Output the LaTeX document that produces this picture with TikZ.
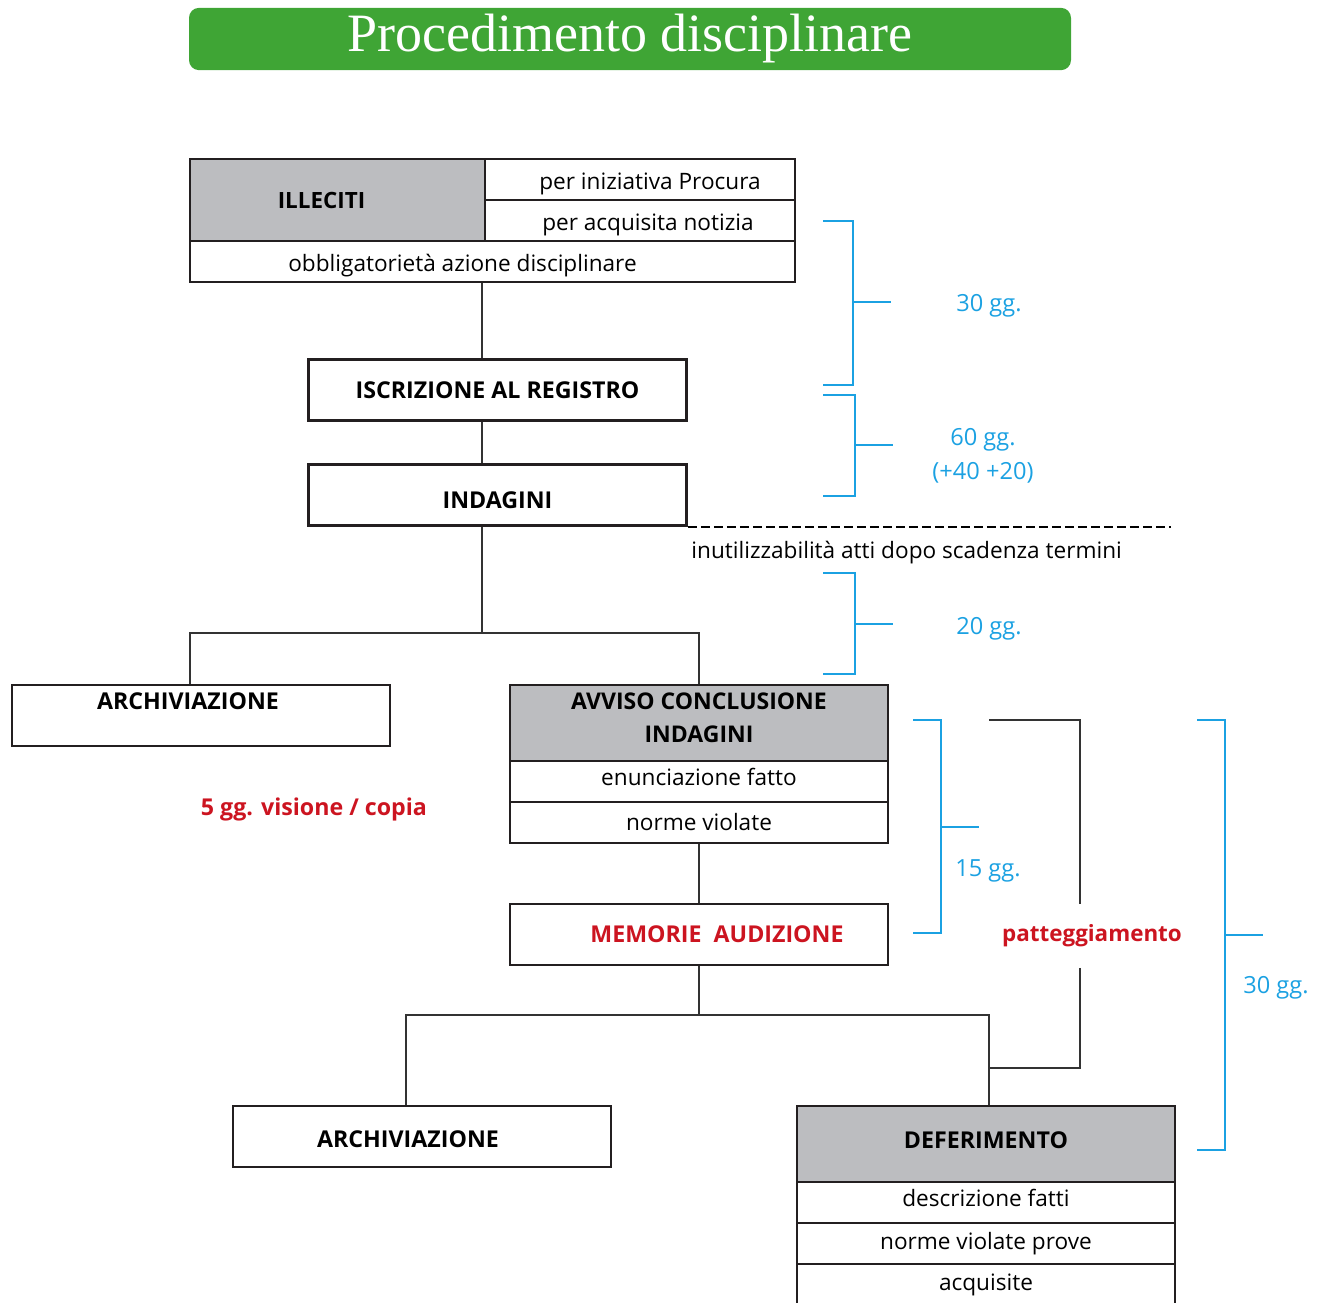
\documentclass[tikz,border=0pt]{standalone}
\usepackage{fontspec}
\setmainfont{Open Sans}
\newfontfamily\titlefont{Liberation Serif}
\usetikzlibrary{positioning}

\definecolor{titlegreen}{RGB}{63,165,53}
\definecolor{cellgray}{RGB}{188,189,192}
\definecolor{lineblack}{RGB}{35,31,32}
\definecolor{termblue}{RGB}{27,161,226}
\definecolor{notered}{RGB}{204,20,32}

\tikzset{
  cell/.style={draw=lineblack,line width=1.35pt,inner sep=0pt,minimum width=189pt},
  bigbold/.style={font=\bfseries\fontsize{11.6}{14}\selectfont},
  headcell/.style={cell,fill=cellgray,bigbold},
  rowcell/.style={cell,minimum height=20.5pt},
  lowtext/.style={text height=9.8pt,text depth=0pt},
  stepbox/.style={cell,minimum height=30.5pt,bigbold},
  conn/.style={draw=black!80,line width=0.6pt},
  brk/.style={draw=termblue,line width=1.2pt},
  term/.style={text=termblue,align=center,font=\fontsize{11.8}{17}\selectfont},
  redtext/.style={text=notered,bigbold}
}

\begin{document}
\begin{tikzpicture}[x=0.5pt,y=-0.5pt,font=\fontsize{11.3}{13.5}\selectfont]
\useasboundingbox (0,0) rectangle (1323,1302);

% title
\node[fill=titlegreen,rounded corners=5pt,minimum width=441pt,minimum height=30pt,
  text=white,font=\titlefont\fontsize{27}{30}\selectfont] (title) at (630,39) {Procedimento disciplinare};

% illeciti block
\node[headcell,minimum width=147.5pt,minimum height=41pt,font=\bfseries\fontsize{11.2}{14}\selectfont] (illeciti) at (337.5,200) {\hspace*{-16pt}ILLECITI};
\node[rowcell,lowtext,minimum width=155pt] (procura) at (640,179.5) {\hspace*{10pt}per iniziativa Procura};
\node[rowcell,lowtext,minimum width=155pt] (notizia) at (640,220.5) {\hspace*{8pt}per acquisita notizia};
\node[rowcell,lowtext,minimum width=302.5pt] (obblig) at (492.5,261.5) {\hspace*{-30pt}obbligatoriet\`a azione disciplinare};

\node[stepbox] (iscrizione) at (497.5,390) {ISCRIZIONE AL REGISTRO};
\node[stepbox,text height=13.5pt,text depth=0pt] (indagini) at (497.5,495) {INDAGINI};

\draw[line width=1pt,dash pattern=on 4.5pt off 2pt] (indagini.south east) -- ++(483,0);
\node[anchor=west,inner sep=0pt] (inutil) at (691,553) {inutilizzabilit\`a atti dopo scadenza termini};

% first fork
\node[stepbox,text height=12pt,text depth=18.5pt] (archA) at (201,715.5) {\hspace*{-13pt}ARCHIVIAZIONE};
\node[headcell,minimum height=38pt] (avviso) at (699,723) {};
\node[align=center,font=\bfseries\fontsize{11.5}{16.5}\selectfont] (avvisolbl) at ([yshift=2.75pt]avviso.center) {AVVISO CONCLUSIONE\\INDAGINI};
\node[rowcell,text height=8.5pt,text depth=5pt] (enunc) at (699,781.5) {enunciazione fatto};
\node[rowcell] (norme) at (699,822.5) {norme violate};

\node[redtext] (visione) at (314,809) {5 gg. visione / copia};

\node[stepbox,text=notered] (memorie) at (699,934.5) {\hspace*{18pt}MEMORIE\ \ AUDIZIONE};

% second fork
\node[stepbox,text height=10.5pt,text depth=0pt] (archB) at (422,1136.5) {\hspace*{-14pt}ARCHIVIAZIONE};
\node[headcell,minimum height=38pt,text height=9.3pt,text depth=5pt] (defer) at (986,1144) {DEFERIMENTO};
\node[rowcell,text height=8.3pt,text depth=4pt] (descr) at (986,1202.5) {descrizione fatti};
\node[rowcell] (prove) at (986,1243.5) {norme violate prove};
\node[rowcell] (acquis) at (986,1284.5) {acquisite};

\node[text=notered,font=\bfseries\fontsize{11.2}{14}\selectfont,minimum height=31.5pt,inner sep=0pt] (patt) at (1092,936) {patteggiamento};

% connectors
\coordinate (spine) at (482,0);
\coordinate (fork1) at (482,633);
\coordinate (fork2) at (699,1015);
\coordinate (pt) at (989,720);
\coordinate (pb) at (989,1068);
\coordinate (pv) at (1080,0);

\draw[conn] (obblig.south -| spine) -- (iscrizione.north -| spine);
\draw[conn] (iscrizione.south -| spine) -- (indagini.north -| spine);
\draw[conn] (indagini.south -| spine) -- (fork1);
\draw[conn] ([xshift=-5.5pt]archA.north) |- (fork1) -| (avviso.north);
\draw[conn] (norme.south) -- (memorie.north);
\draw[conn] (memorie.south) -- (fork2);
\draw[conn] ([xshift=-8pt]archB.north) |- (fork2) -| ([xshift=1.5pt]defer.north);
\draw[conn] (pt) -| (patt.north -| pv);
\draw[conn] (patt.south -| pv) |- (pb);

% terms
\foreach \xa/\xb/\ya/\yb/\ym in {823/853/221/385/302, 823/855/395/496/445, 823/855/573/674/624,
    913/941/720/933/827, 1197/1225/720/1150/935}
  \draw[brk] (\xa,\ya) -| (\xb,\yb) -- (\xa,\yb) (\xb,\ym) -- ++(38,0);

\node[term] (t30) at (989,306) {30 gg.};
\node[term] (t60) at (983,456) {60 gg.\\(+40 +20)};
\node[term] (t20) at (989,629) {20 gg.};
\node[term] (t15) at (988,871) {15 gg.};
\node[term] (t30b) at (1276,988) {30 gg.};
\end{tikzpicture}
\end{document}
